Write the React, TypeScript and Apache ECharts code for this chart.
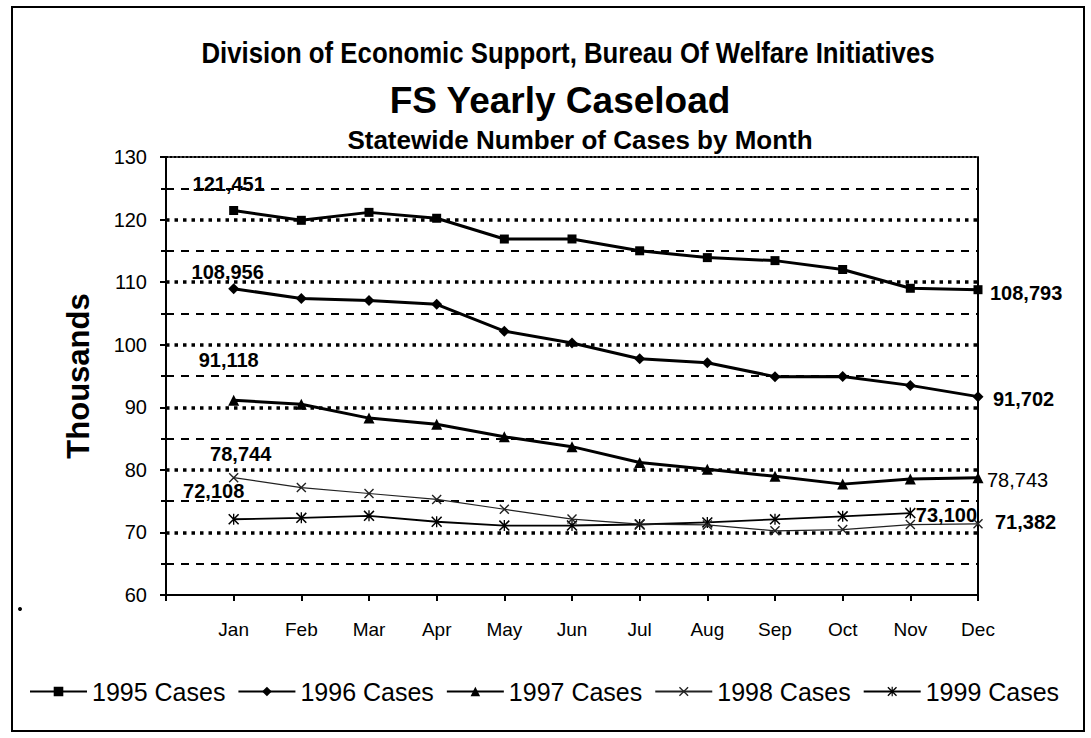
import React, { useEffect, useRef } from 'react';
import * as echarts from 'echarts';

const MONTHS = ['Jan', 'Feb', 'Mar', 'Apr', 'May', 'Jun', 'Jul', 'Aug', 'Sep', 'Oct', 'Nov', 'Dec'];
const SERIES_NAMES = ['1995 Cases', '1996 Cases', '1997 Cases', '1998 Cases', '1999 Cases'];
const CASES_1995 = [121.451, 119.88, 121.15, 120.21, 116.89, 116.9, 115.01, 113.92, 113.44, 112.02, 109.02, 108.793];
const CASES_1996 = [108.956, 107.38, 107.06, 106.45, 102.17, 100.28, 97.75, 97.13, 94.9, 94.92, 93.5, 91.702];
const CASES_1997 = [91.118, 90.5, 88.27, 87.3, 85.28, 83.71, 81.18, 80.09, 78.97, 77.72, 78.53, 78.743];
const CASES_1998 = [78.744, 77.17, 76.22, 75.28, 73.7, 72.13, 71.34, 71.2, 70.25, 70.46, 71.25, 71.382];
const CASES_1999 = [72.108, 72.33, 72.65, 71.71, 71.09, 71.11, 71.27, 71.6, 72.1, 72.58, 73.1];
const Y_MIN = 60;
const Y_MAX = 130;
const Y_STEP = 10;

const FONT = "'Liberation Sans', Arial, sans-serif";

const X_PATH = 'path://M0,1L1,0L10,9L9,10Z M9,0L10,1L1,10L0,9Z';
const STAR_PATH = 'path://M0,1L1,0L10,9L9,10Z M9,0L10,1L1,10L0,9Z M4.4,0L5.6,0L5.6,10L4.4,10Z';

// which points carry a value label, and where it sits
const LABEL_SPOTS: Record<number, Array<{ idx: number; pos: string; dist: number; dx: number; dy: number; bold: boolean }>> = {
  0: [
    { idx: 0, pos: 'top', dist: 12, dx: -5, dy: 0, bold: true },
    { idx: 11, pos: 'right', dist: 7.5, dx: 0, dy: 3, bold: true },
  ],
  1: [
    { idx: 0, pos: 'top', dist: 1, dx: -6, dy: 0, bold: true },
    { idx: 11, pos: 'right', dist: 9.5, dx: 0, dy: 2, bold: true },
  ],
  2: [
    { idx: 0, pos: 'top', dist: 25, dx: -5, dy: 0, bold: true },
    { idx: 11, pos: 'right', dist: 3.5, dx: 0, dy: 2, bold: false },
  ],
  3: [
    { idx: 0, pos: 'top', dist: 9, dx: 7, dy: 0, bold: true },
    { idx: 11, pos: 'right', dist: 12, dx: 0, dy: -2, bold: true },
  ],
  4: [
    { idx: 0, pos: 'top', dist: 13, dx: -20, dy: 0, bold: true },
    { idx: 10, pos: 'right', dist: 0, dx: 0, dy: 2, bold: true },
  ],
};

const STYLES = [
  { symbol: 'rect', size: 9, width: 3, color: '#000' },
  { symbol: 'diamond', size: 11, width: 3, color: '#000' },
  { symbol: 'triangle', size: 11, width: 3, color: '#000' },
  { symbol: X_PATH, size: 10, width: 1.2, color: '#222' },
  { symbol: STAR_PATH, size: 11, width: 1.8, color: '#000' },
];

const fmt = (v: number) => Math.round(v * 1000).toLocaleString('en-US');

function buildSeries(values: number[], si: number) {
  const st = STYLES[si];
  const spots = LABEL_SPOTS[si] || [];
  const data = values.map((v, i) => {
    const spot = spots.find((s) => s.idx === i);
    if (!spot) return [i, v];
    return {
      value: [i, v],
      label: {
        show: true,
        position: spot.pos,
        distance: spot.dist,
        offset: [spot.dx, spot.dy],
        fontSize: 20,
        lineHeight: 20,
        fontWeight: spot.bold ? 'bold' : 'normal',
        fontFamily: FONT,
        color: '#000',
        formatter: (p: any) => fmt(p.value[1]),
      },
    };
  });
  return {
    name: SERIES_NAMES[si],
    type: 'line',
    data,
    symbol: st.symbol,
    symbolSize: st.size,
    showAllSymbol: true,
    itemStyle: { color: st.color },
    lineStyle: { color: st.color, width: st.width },
    label: { show: false },
    z: 10 - si,
  };
}

export default function App() {
  const ref = useRef<HTMLDivElement>(null);
  useEffect(() => {
    if (!ref.current) return;
    const chart = echarts.init(ref.current, undefined, { renderer: 'svg' });
    const allSeries = [CASES_1995, CASES_1996, CASES_1997, CASES_1998, CASES_1999].map((v, i) => buildSeries(v, i));
    chart.setOption({
      animation: false,
      backgroundColor: '#fff',
      grid: { left: 166, right: 113, top: 157, bottom: 143, containLabel: false },
      legend: {
        data: SERIES_NAMES,
        left: 24,
        top: 674,
        itemWidth: 57,
        itemHeight: 12,
        itemGap: 12,
        textStyle: { fontSize: 25, fontFamily: FONT, color: '#000' },
      },
      xAxis: [
        {
          type: 'value',
          min: -1,
          max: MONTHS.length - 1,
          interval: 1,
          axisLine: { show: true, onZero: false, lineStyle: { color: '#000', width: 2 } },
          axisTick: { show: true, length: 6, lineStyle: { color: '#000', width: 2 } },
          axisLabel: {
            margin: 25,
            fontSize: 19,
            fontFamily: FONT,
            color: '#000',
            formatter: (v: number) => MONTHS[v] ?? '',
          },
          splitLine: { show: false },
        },
        {
          type: 'value',
          position: 'top',
          min: -1,
          max: MONTHS.length - 1,
          interval: 1,
          axisLine: { show: true, onZero: false, lineStyle: { color: '#000', width: 2, type: [2, 2] } },
          axisTick: { show: false },
          axisLabel: { show: false },
          splitLine: { show: false },
        },
      ],
      yAxis: [
        {
          type: 'value',
          min: Y_MIN,
          max: Y_MAX,
          interval: Y_STEP,
          name: 'Thousands',
          nameLocation: 'middle',
          nameRotate: 90,
          nameGap: 72,
          nameTextStyle: { fontSize: 31, fontWeight: 'bold', fontFamily: FONT, color: '#000' },
          axisLine: { show: true, onZero: false, lineStyle: { color: '#000', width: 2 } },
          axisTick: { show: true, length: 6, lineStyle: { color: '#000', width: 2 } },
          minorTick: { show: true, splitNumber: 2, length: 5, lineStyle: { color: '#000', width: 2 } },
          axisLabel: { margin: 19, fontSize: 20, fontFamily: FONT, color: '#000' },
          splitLine: {
            show: true,
            showMinLine: false,
            showMaxLine: false,
            lineStyle: { color: '#000', width: 3.5, type: [3.5, 5] },
          },
          minorSplitLine: { show: true, lineStyle: { color: '#000', width: 2, type: [8, 7] } },
        },
        {
          type: 'value',
          position: 'right',
          min: Y_MIN,
          max: Y_MAX,
          interval: Y_STEP,
          axisLine: { show: true, onZero: false, lineStyle: { color: '#000', width: 2 } },
          axisTick: { show: false },
          axisLabel: { show: false },
          splitLine: { show: false },
        },
      ],
      series: allSeries,
      graphic: [
        {
          type: 'rect',
          shape: { x: 12, y: 7, width: 1072, height: 724 },
          style: { fill: 'none', stroke: '#000', lineWidth: 2 },
          silent: true,
        },
        {
          type: 'circle',
          shape: { cx: 20, cy: 609, r: 2 },
          style: { fill: '#000' },
          silent: true,
        },
        {
          type: 'text',
          x: 568,
          y: 53,
          scaleX: 0.86,
          style: {
            text: 'Division of Economic Support, Bureau Of Welfare Initiatives',
            fontSize: 30,
            fontWeight: 'bold',
            fontFamily: FONT,
            fill: '#000',
            align: 'center',
            verticalAlign: 'middle',
          },
        },
        {
          type: 'text',
          x: 560,
          y: 100,
          style: {
            text: 'FS Yearly Caseload',
            fontSize: 37,
            fontWeight: 'bold',
            fontFamily: FONT,
            fill: '#000',
            align: 'center',
            verticalAlign: 'middle',
          },
        },
        {
          type: 'text',
          x: 580,
          y: 140,
          style: {
            text: 'Statewide Number of Cases by Month',
            fontSize: 26,
            fontWeight: 'bold',
            fontFamily: FONT,
            fill: '#000',
            align: 'center',
            verticalAlign: 'middle',
          },
        },
      ],
    });
    return () => chart.dispose();
  }, []);
  return (
    <div
      ref={ref}
      style={{ position: 'fixed', left: 0, top: 0, width: 1091, height: 738, background: '#fff' }}
    />
  );
}
